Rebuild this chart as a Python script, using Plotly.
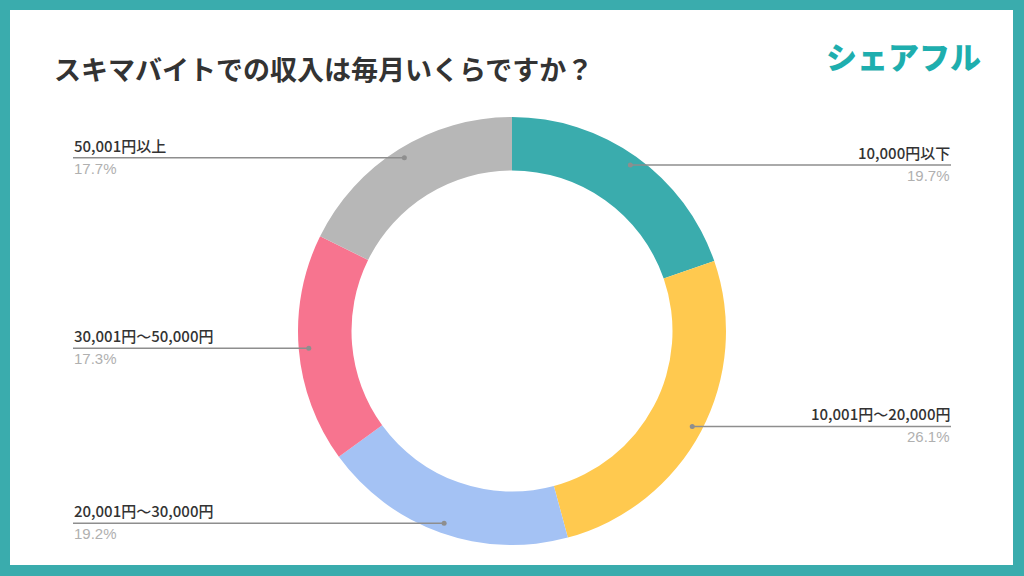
import math
import plotly.graph_objects as go

categories = ["10,000円以下", "10,001円〜20,000円", "20,001円〜30,000円", "30,001円〜50,000円", "50,001円以上"]
values = [19.7, 26.1, 19.2, 17.3, 17.7]
pct_labels = ["19.7%", "26.1%", "19.2%", "17.3%", "17.7%"]
colors = ["#3AACAD", "#FFC94F", "#A4C2F4", "#F7748F", "#B7B7B7"]
title_text = "スキマバイトでの収入は毎月いくらですか？"
logo_text = "シェアフル"

W, H = 1024, 576
CX, CY, R = 512, 331, 214
HOLE = 0.75

def px(x):
    return x / W

def py(y):
    return 1 - y / H

fig = go.Figure()
fig.add_trace(go.Pie(
    labels=categories,
    values=values,
    marker=dict(colors=colors, line=dict(width=0)),
    hole=HOLE,
    sort=False,
    direction="clockwise",
    rotation=0,
    textinfo="none",
    hoverinfo="label+percent",
    showlegend=False,
    domain=dict(x=[px(CX - R), px(CX + R)], y=[py(CY + R), py(CY - R)]),
))

shapes = [
    dict(type="rect", xref="paper", yref="paper", x0=px(10), x1=px(1013), y0=py(565), y1=py(10),
         fillcolor="white", line=dict(width=0), layer="below"),
]
annotations = [
    dict(text=title_text, x=px(52), y=py(69), xref="paper", yref="paper", xanchor="left", yanchor="middle",
         showarrow=False, font=dict(family="Noto Sans CJK JP", size=27, color="#333333", weight="bold")),
    dict(text=logo_text, x=px(903), y=py(56), xref="paper", yref="paper", xanchor="center", yanchor="middle",
         showarrow=False, font=dict(family="Noto Sans CJK JP", size=31, color="#1EAEAE", weight=900)),
]

total = sum(values)
cum = 0.0
LINE_C = "#8E8E8E"
for cat, v, pl in zip(categories, values, pct_labels):
    mid = (cum + v / 2) / total * 2 * math.pi
    cum += v
    r = 0.953 * R
    dx = CX + r * math.sin(mid)
    dy = CY - r * math.cos(mid)
    if math.sin(mid) > 0:
        x_end = 951
        anchor = "right"
    else:
        x_end = 73
        anchor = "left"
    shapes.append(dict(type="line", xref="paper", yref="paper", x0=px(dx), x1=px(x_end), y0=py(dy), y1=py(dy),
                       line=dict(color=LINE_C, width=1.5), layer="above"))
    shapes.append(dict(type="circle", xref="paper", yref="paper", x0=px(dx - 2.5), x1=px(dx + 2.5),
                       y0=py(dy + 2.5), y1=py(dy - 2.5), fillcolor=LINE_C, line=dict(width=0), layer="above"))
    annotations.append(dict(text=cat, x=px(x_end), y=py(dy - 1), xref="paper", yref="paper",
                            xanchor=anchor, yanchor="bottom", showarrow=False, borderpad=0,
                            font=dict(family="Noto Sans CJK JP", size=15, color="#333333", weight=500)))
    annotations.append(dict(text=pl, x=px(x_end), y=py(dy + 1), xref="paper", yref="paper",
                            xanchor=anchor, yanchor="top", showarrow=False, borderpad=0,
                            font=dict(family="Liberation Sans, Arial", size=15, color="#B0B0B0")))

fig.update_layout(
    width=W, height=H,
    margin=dict(l=0, r=0, t=0, b=0),
    paper_bgcolor="#3AACAD",
    plot_bgcolor="white",
    shapes=shapes,
    annotations=annotations,
)

fig.write_html("out.html", config={"displayModeBar": False},
               post_script="document.body.style.margin='0';document.body.style.overflow='hidden';")
